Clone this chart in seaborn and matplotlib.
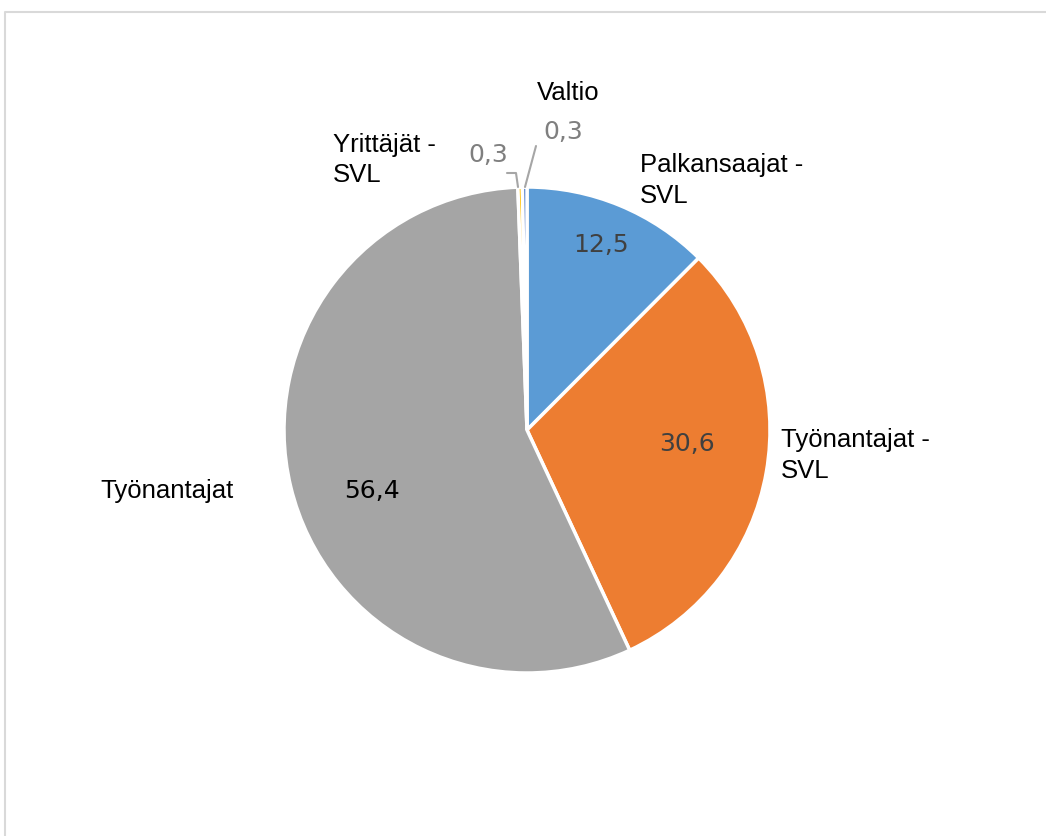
import matplotlib
matplotlib.use("Agg")
import matplotlib.pyplot as plt
import seaborn as sns

# data
categories = ["Palkansaajat -\nSVL", "Työnantajat -\nSVL", "Työnantajat", "Yrittäjät -\nSVL", "Valtio"]
values = [12.5, 30.6, 56.4, 0.3, 0.3]
value_labels = ["12,5", "30,6", "56,4", "0,3", "0,3"]
colors = ["#5B9BD5", "#ED7D31", "#A5A5A5", "#FFC000", "#4472C4"]

sns.set_theme(style="white")
plt.rcParams['font.family'] = ['Liberation Sans Narrow', 'Liberation Sans', 'DejaVu Sans']

W, H = 1046, 836
fig = plt.figure(figsize=(W / 100, H / 100), dpi=100)
ax = fig.add_axes([0, 0, 1, 1])

# chart area border (only top/left visible)
ax.plot([4.5, 4.5, W], [0, H - 11.5, H - 11.5], color="#D9D9D9", lw=1.5)

# pie, centred in pixel coordinates
cx, cy, r = 527, H - 430, 243
ax.pie(values, colors=colors, startangle=90, counterclock=False,
       center=(cx, cy), radius=r, frame=True,
       wedgeprops=dict(edgecolor="white", linewidth=2.5))
ax.set_xlim(0, W)
ax.set_ylim(0, H)
ax.set_aspect("equal")
ax.axis("off")

cat_kw = dict(fontsize=18.5, color="black", linespacing=1.35,
              family=['Liberation Sans Narrow', 'Liberation Sans', 'DejaVu Sans'])
num_kw = dict(fontsize=18, family=['DejaVu Sans'], ha="center", va="center")

# category labels
ax.text(640, H - 180.5, categories[0], ha="left", va="center", **cat_kw)
ax.text(781, H - 455.5, categories[1], ha="left", va="center", **cat_kw)
ax.text(167, H - 491, categories[2], ha="center", va="center", **cat_kw)
ax.text(333, H - 160, categories[3], ha="left", va="center", **cat_kw)
ax.text(568, H - 93, categories[4], ha="center", va="center", **cat_kw)

# value labels
ax.text(601, H - 245, value_labels[0], color="#404040", **num_kw)
ax.text(687, H - 444, value_labels[1], color="#404040", **num_kw)
ax.text(372, H - 491, value_labels[2], color="black", **num_kw)
ax.text(488, H - 155, value_labels[3], color="#7F7F7F", **num_kw)
ax.text(563, H - 132, value_labels[4], color="#7F7F7F", **num_kw)

# leader lines for the small slices
ax.plot([507, 516, 518], [H - 173, H - 173, H - 187], color="#A6A6A6", lw=1.5)
ax.plot([536, 525], [H - 146, H - 187], color="#A6A6A6", lw=1.5)

fig.savefig("out.png", dpi=100)
